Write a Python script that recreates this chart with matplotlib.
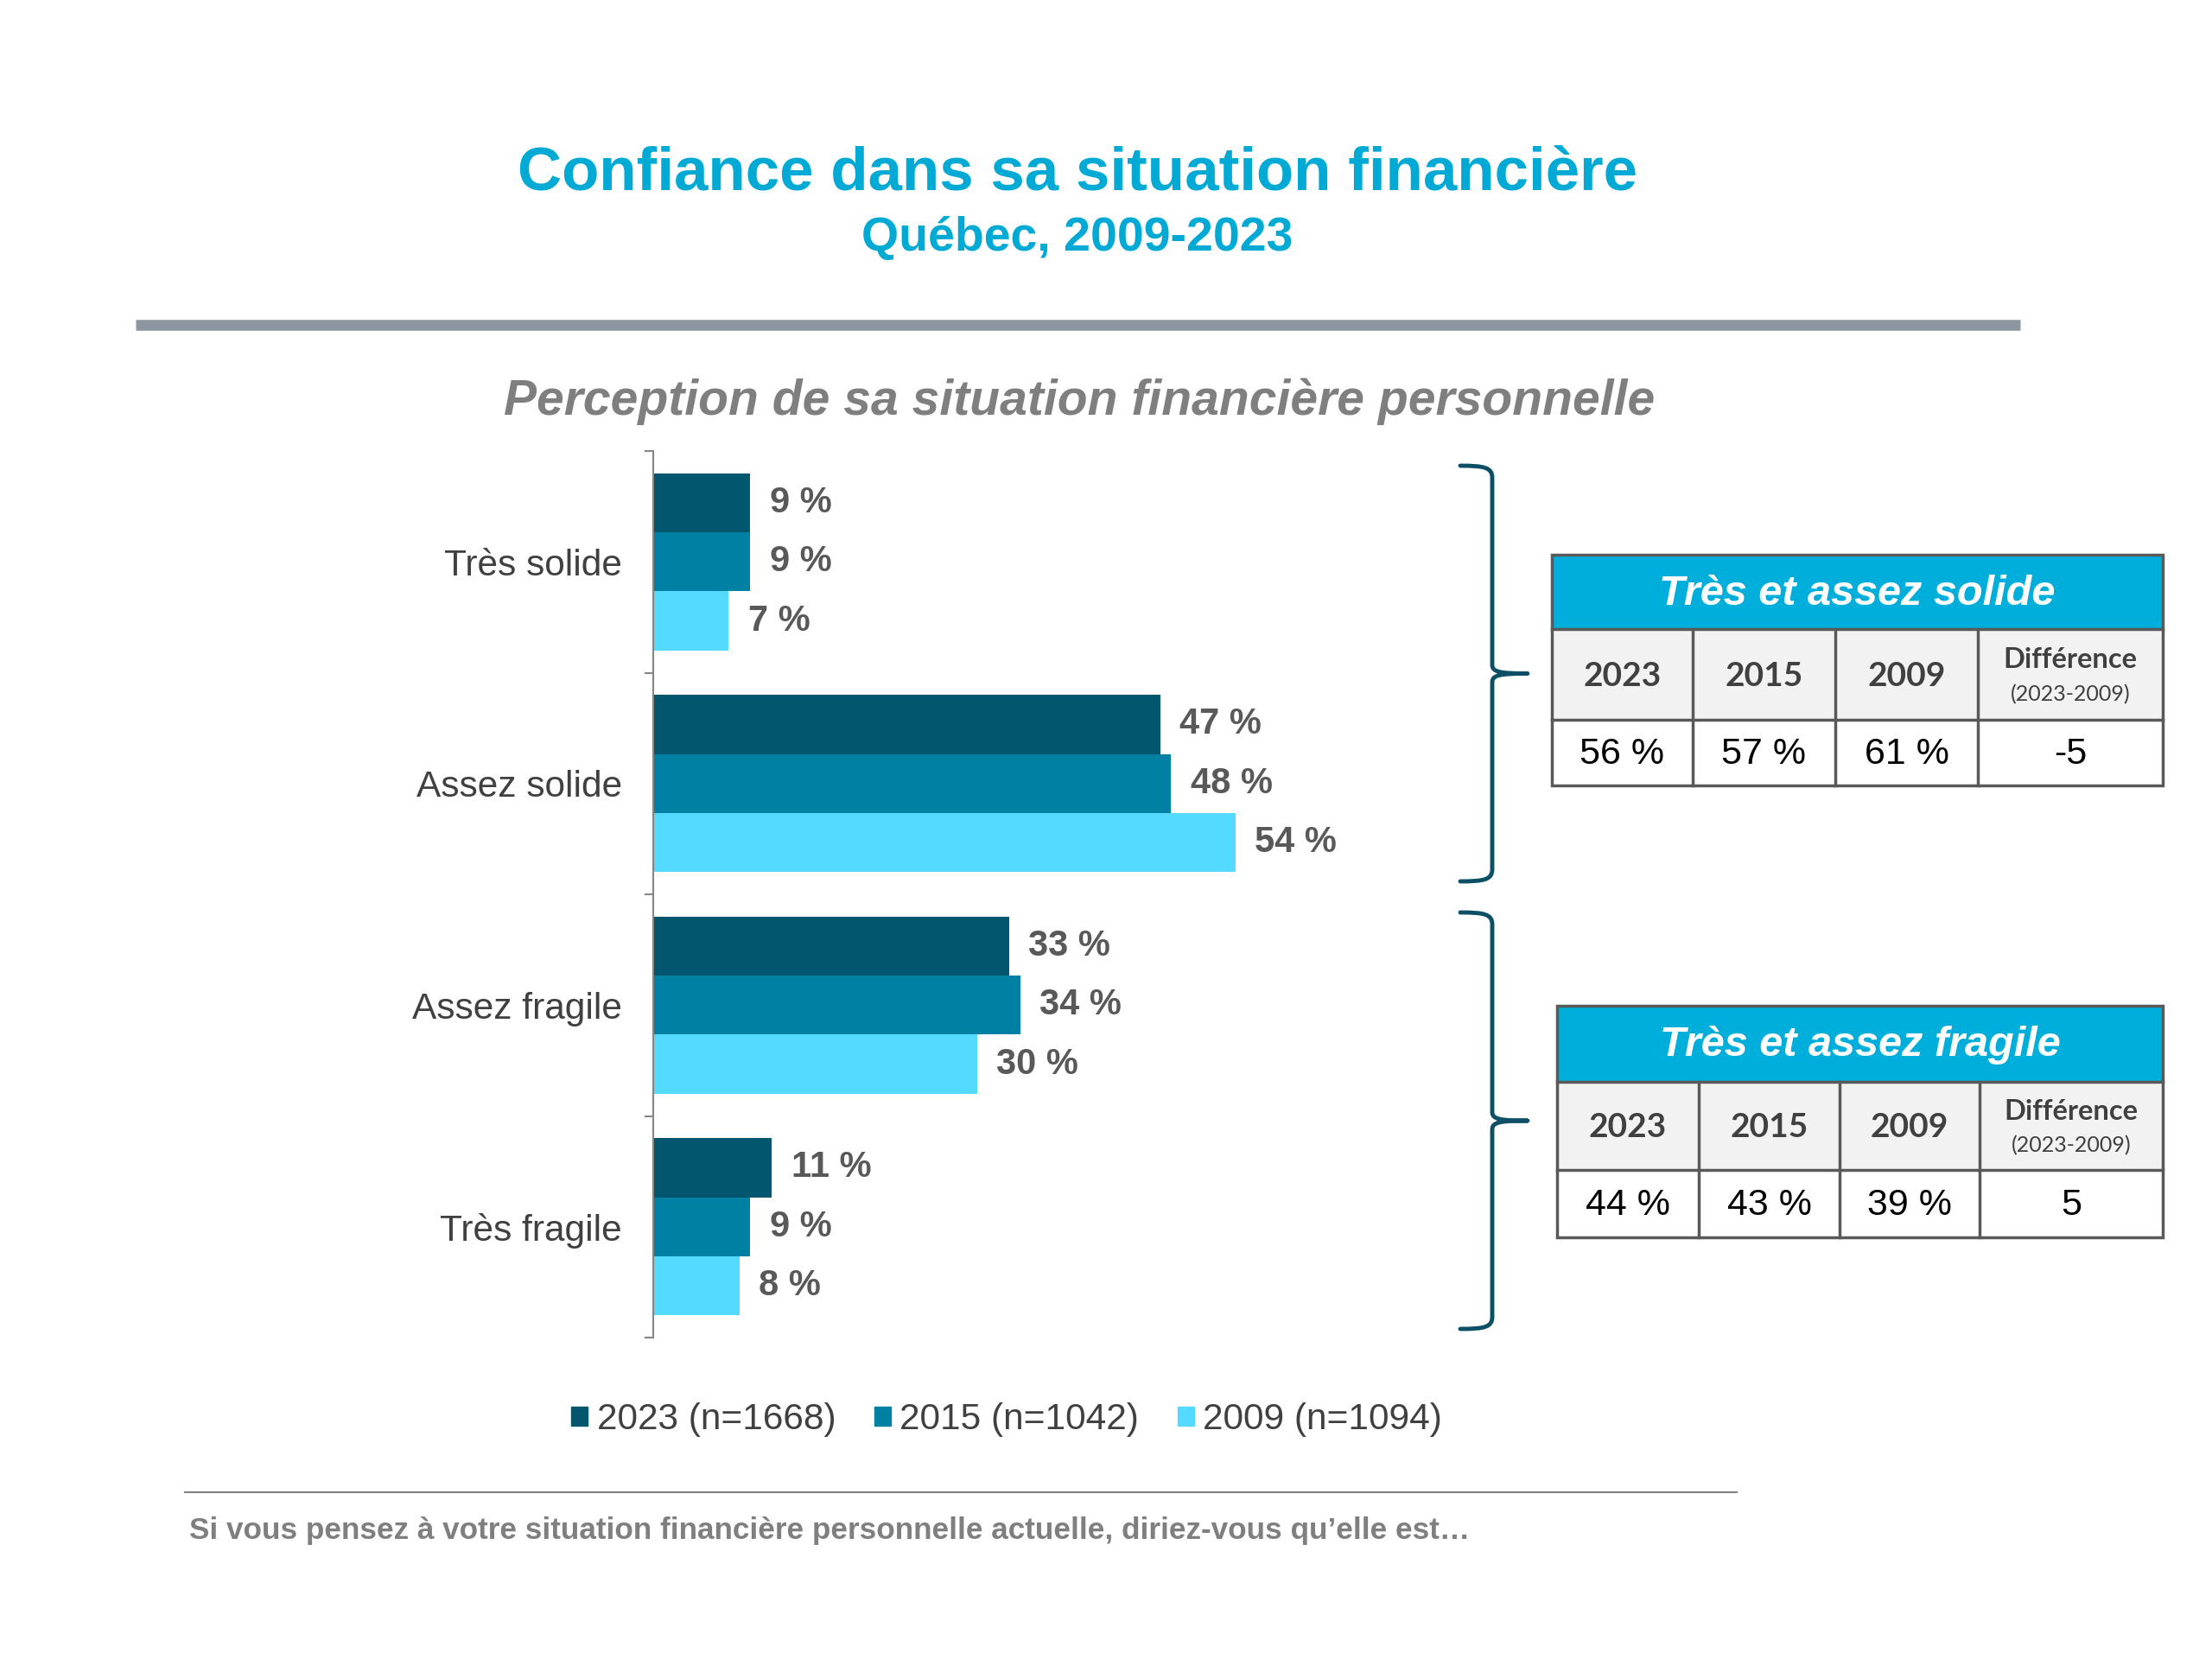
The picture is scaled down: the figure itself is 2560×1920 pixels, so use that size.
import matplotlib.pyplot as plt
from matplotlib.path import Path
from matplotlib.patches import PathPatch, Rectangle, Patch
import numpy as np

plt.rcParams['font.family'] = ['Liberation Sans', 'DejaVu Sans']

# data
categories = ['Très solide', 'Assez solide', 'Assez fragile', 'Très fragile']
years = ['2023 (n=1668)', '2015 (n=1042)', '2009 (n=1094)']
v2023 = [9, 47, 33, 11]
v2015 = [9, 48, 34, 9]
v2009 = [7, 54, 30, 8]
colors = ['#02566E', '#0081A4', '#53DAFE']

tab_cols = ['2023', '2015', '2009']
solide_vals = ['56 %', '57 %', '61 %', '-5']
fragile_vals = ['44 %', '43 %', '39 %', '5']

W, H = 2560, 1920
fig = plt.figure(figsize=(25.6, 19.2), dpi=100)

# main bar chart
ax = fig.add_axes([756 / W, 1 - 1548 / H, 874 / W, (1548 - 522) / H])
y = np.arange(len(categories))
bh = 0.8 / 3
for k, (vals, lab, c) in enumerate(zip([v2023, v2015, v2009], years, colors)):
    bars = ax.barh(y + (k - 1) * bh, vals, height=bh, color=c, label=lab)
    ax.bar_label(bars, labels=[f'{v} %' for v in vals], padding=16,
                 fontsize=30, fontweight='bold', color='#595959')
ax.set_ylim(3.5, -0.5)
ax.set_xlim(0, 70)
ax.set_yticks(y)
ax.set_yticklabels(categories, fontsize=30.5, color='#404040')
ax.tick_params(axis='y', which='major', length=0, pad=26)
ax.set_yticks(np.arange(-0.5, 4, 1), minor=True)
ax.tick_params(axis='y', which='minor', length=7, width=1.5, color='#868686')
ax.set_xticks([])
for s in ['top', 'right', 'bottom']:
    ax.spines[s].set_visible(False)
ax.spines['left'].set_color('#868686')
ax.spines['left'].set_linewidth(1.5)

# legend
handles = [Patch(color=c) for c in colors]
fig.legend(handles, years, loc='center', bbox_to_anchor=(1165 / W, 1 - 1643 / H),
           ncol=3, frameon=False, fontsize=30.5, labelcolor='#404040',
           handlelength=0.45, handleheight=0.45, handletextpad=0.25, columnspacing=1.05)

# overlay in pixel coordinates for decorations
ov = fig.add_axes([0, 0, 1, 1])
ov.set_xlim(0, W)
ov.set_ylim(H, 0)
ov.axis('off')
ov.patch.set_alpha(0)

title_col = '#00AAD5'
ov.text(1247, 201, 'Confiance dans sa situation financière', ha='center', va='center',
        fontsize=51, fontweight='bold', color=title_col)
ov.text(1247, 276, 'Québec, 2009-2023', ha='center', va='center',
        fontsize=40, fontweight='bold', color=title_col)
ov.plot([157, 2338], [376, 376], color='#8B96A0', lw=9, solid_capstyle='butt')
ov.text(1249, 465, 'Perception de sa situation financière personnelle', ha='center',
        va='center', fontsize=41, fontweight='bold', fontstyle='italic', color='#7F7F7F')

ov.plot([214, 2010], [1727, 1727], color='#808080', lw=1.5)
ov.text(219, 1771, 'Si vous pensez à votre situation financière personnelle actuelle, '
        'diriez-vous qu’elle est…', ha='left', va='center', fontsize=25.3,
        fontweight='bold', color='#7F7F7F')


def brace(top, bottom, x0=1690, xv=1727, xt=1768):
    mid = (top + bottom) / 2
    verts = [(x0, top), (1718, top), (xv, top + 2), (xv, top + 14),
             (xv, mid - 10),
             (xv, mid - 2), (1735, mid), (xt, mid),
             (1735, mid), (xv, mid + 2), (xv, mid + 10),
             (xv, bottom - 14),
             (xv, bottom - 2), (1718, bottom), (x0, bottom)]
    codes = [Path.MOVETO, Path.CURVE4, Path.CURVE4, Path.CURVE4,
             Path.LINETO,
             Path.CURVE4, Path.CURVE4, Path.CURVE4,
             Path.CURVE4, Path.CURVE4, Path.CURVE4,
             Path.LINETO,
             Path.CURVE4, Path.CURVE4, Path.CURVE4]
    ov.add_patch(PathPatch(Path(verts, codes), fill=False, edgecolor='#0D5066', lw=3.5,
                           capstyle='round', joinstyle='round'))


brace(539, 1020)
brace(1056, 1538)


def table(xs, ys, header, vals):
    border = '#595959'
    ov.add_patch(Rectangle((xs[0], ys[0]), xs[-1] - xs[0], ys[1] - ys[0],
                           facecolor='#00AEDB', edgecolor='none'))
    ov.add_patch(Rectangle((xs[0], ys[1]), xs[-1] - xs[0], ys[2] - ys[1],
                           facecolor='#F2F2F2', edgecolor='none'))
    ov.add_patch(Rectangle((xs[0], ys[0]), xs[-1] - xs[0], ys[-1] - ys[0],
                           facecolor='none', edgecolor=border, lw=2.5))
    for yy in ys[1:-1]:
        ov.plot([xs[0], xs[-1]], [yy, yy], color=border, lw=2.5)
    for xx in xs[1:-1]:
        ov.plot([xx, xx], [ys[1], ys[-1]], color=border, lw=2.5)
    ov.text((xs[0] + xs[-1]) / 2, (ys[0] + ys[1]) / 2 + 2, header, ha='center', va='center',
            fontsize=35, fontweight='bold', fontstyle='italic', color='white')
    r2 = (ys[1] + ys[2]) / 2
    r3 = (ys[2] + ys[3]) / 2
    for i, lab in enumerate(tab_cols):
        ov.text((xs[i] + xs[i + 1]) / 2, r2 + 2, lab, ha='center', va='center',
                fontsize=28, fontweight='bold', color='#404040', family='Lato')
    cx = (xs[3] + xs[4]) / 2
    ov.text(cx, r2 - 17, 'Différence', ha='center', va='center',
            fontsize=23.5, fontweight='bold', color='#404040', family='Lato')
    ov.text(cx, r2 + 23, '(2023-2009)', ha='center', va='center',
            fontsize=18, color='#404040', family='Lato')
    for i, v in enumerate(vals):
        ov.text((xs[i] + xs[i + 1]) / 2, r3 + 2, v, ha='center', va='center',
                fontsize=31, color='black')


table([1796, 1959, 2124, 2289, 2503], [642, 728, 833, 909],
      'Très et assez solide', solide_vals)
table([1802, 1966, 2129, 2291, 2503], [1164, 1252, 1354, 1432],
      'Très et assez fragile', fragile_vals)

fig.savefig('out.png', dpi=100, facecolor='white')
